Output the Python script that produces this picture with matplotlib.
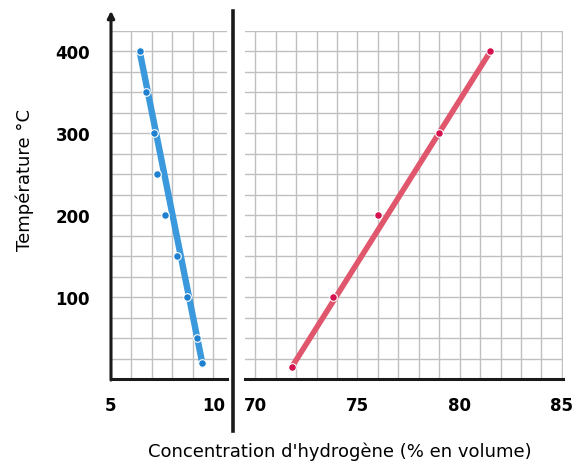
import matplotlib.pyplot as plt
from matplotlib.lines import Line2D

# Données
temp_gauche = [400, 350, 300, 250, 200, 150, 100, 50, 20]
conc_gauche = [6.4, 6.7, 7.1, 7.25, 7.65, 8.2, 8.7, 9.2, 9.45]

temp_droite = [15, 100, 200, 300, 400]
conc_droite = [71.8, 73.8, 76.0, 79.0, 81.5]

ticks_gauche = [5, 10]
ticks_droite = [70, 75, 80, 85]
ticks_temp = [100, 200, 300, 400]

plt.rcParams['font.family'] = ['DejaVu Sans']

fig = plt.figure(figsize=(5.76, 4.64), dpi=100)
ax1 = fig.add_axes([0.1927, 0.181, 0.2014, 0.75])
ax2 = fig.add_axes([0.4253, 0.181, 0.552, 0.75])

grille = '#c0c0c0'


def prepare(ax, xmin, xmax, grid_x):
    ax.set_xlim(xmin, xmax)
    ax.set_ylim(0, 425)
    for x in grid_x:
        ax.axvline(x, color=grille, lw=1.0, zorder=0)
    for y in range(25, 426, 25):
        ax.axhline(y, color=grille, lw=1.0, zorder=0)
    for s in ['top', 'right', 'left']:
        ax.spines[s].set_visible(False)
    ax.spines['bottom'].set_linewidth(2.2)
    ax.spines['bottom'].set_color('#1a1a1a')
    ax.tick_params(length=0, labelsize=12, pad=12)
    for lab in ax.get_xticklabels() + ax.get_yticklabels():
        lab.set_fontweight('bold')


def trace(ax, t, c, couleur_ligne, couleur_point, lw):
    # droite tracée entre le premier et le dernier point
    ax.plot([c[0], c[-1]], [t[0], t[-1]], color=couleur_ligne, lw=lw,
            solid_capstyle='butt', zorder=2)
    ax.plot(c, t, 'o', color=couleur_point, ms=5.5, mec='white', mew=0.8, zorder=3)


ax1.set_xticks(ticks_gauche)
ax1.set_yticks(ticks_temp)
ax2.set_xticks(ticks_droite)
ax2.set_yticks([])
prepare(ax1, 5, 10.66, range(6, 11))
prepare(ax2, 69.5, 85.05, range(70, 86))

trace(ax1, temp_gauche, conc_gauche, '#3a98dc', '#1f80d0', 4.6)
trace(ax2, temp_droite, conc_droite, '#e0566c', '#d4124e', 4.0)

ax1.tick_params(axis='y', pad=15)

# axe vertical avec flèche
ax1.annotate('', xy=(0, 1.058), xytext=(0, -0.003), xycoords='axes fraction',
             arrowprops=dict(arrowstyle='-|>', color='#1a1a1a', lw=2.2,
                             mutation_scale=10, shrinkA=0, shrinkB=0))

# séparation entre les deux panneaux
fig.add_artist(Line2D([0.4045, 0.4045], [0.069, 0.974], color='#1a1a1a', lw=2.6))

fig.text(0.59, 0.026, "Concentration d'hydrogène (% en volume)", ha='center',
         va='center', fontsize=13)
fig.text(0.043, 0.612, 'Température °C', rotation=90, ha='center', va='center',
         fontsize=13)

plt.savefig('out.png', dpi=100)
